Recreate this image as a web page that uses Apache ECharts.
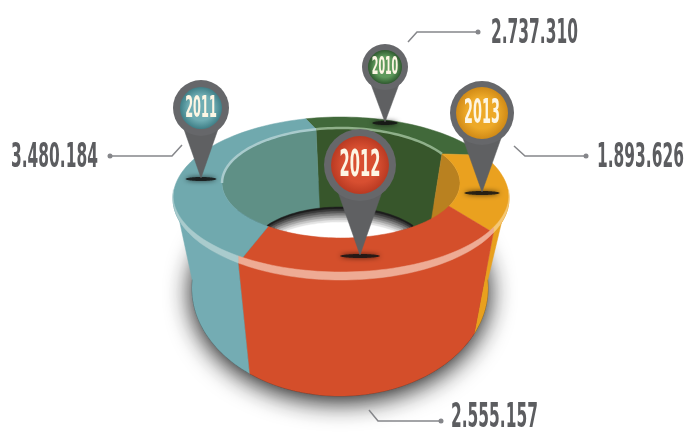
<!DOCTYPE html>
<html>
<head>
<meta charset="utf-8">
<title>Ring</title>
<style>
  html, body { margin: 0; padding: 0; background: #fff; }
  #chart { width: 687px; height: 432px; }
</style>
</head>
<body>
<div id="chart"></div>
<script src="https://cdn.jsdelivr.net/npm/echarts@6/dist/echarts.min.js"></script>
<script>
// slices go clockwise from the 2011/2010 joint at the back of the ring
var years = ['2010', '2013', '2012', '2011']
var values = [2737310, 1893626, 2555157, 3480184]

var topColors = ['#41693a', '#eaa11f', '#d44f2b', '#70a9ae']
var sideColors = ['#41693a', '#e8a01e', '#d44e2a', '#74acb3']
var wallColors = ['#37562b', '#b98120', '#d44f2b', '#5f9086']
var rimColors = ['#8fb08a', '#f4c878', '#eeab94', '#a9cbcd']
var headLight = ['#5f9a5c', '#eda928', '#d84f31', '#6fadb3']
var headDark = ['#2f5a2f', '#d08a17', '#b93a22', '#3f7f87']

// ring geometry, in page pixels
var rimOuter = { cx: 341, cy: 198.5, rx: 168, ry: 81.5 }
var rimInner = { cx: 341, cy: 195, rx: 168, ry: 77 }
var hole = { cx: 341, cy: 183, rx: 119, ry: 55 }
var floor = { cx: 340, cy: 250, rx: 89, ry: 43 }
var base = { cx: 340, cy: 288, rx: 148, ry: 108 }
var wallApex = [344, 765]
var wallCut = 240

// label and pin placement, one entry per slice
var pinLayout = [
  { tip: [385, 122], head: [385, 67], r: 23, inner: 17, size: 24, sx: 0.44 },
  { tip: [482, 192], head: [482, 113], r: 32, inner: 26, size: 34, sx: 0.42 },
  { tip: [360, 255], head: [360, 165], r: 36, inner: 29, size: 37, sx: 0.44 },
  { tip: [201, 178], head: [201, 108], r: 28, inner: 21, size: 30, sx: 0.42 }
]
var labelLayout = [
  { text: [491, 34], leader: [[478, 32], [417, 32], [408, 42]] },
  { text: [597, 158], leader: [[586, 156], [525, 156], [514, 146]] },
  { text: [451, 418], leader: [[441, 421], [378, 421], [369, 410]] },
  { text: [11, 158], leader: [[110, 156], [172, 156], [182, 145]] }
]

var FONT = '"DejaVu Sans Condensed", "DejaVu Sans", sans-serif'
var total = values.reduce(function (a, b) { return a + b }, 0)

// perspective of the drawing: the front of the ring is stretched, the back squeezed
function screenAngle (v) {
  var t = echarts.number.linearMap(v, [0, total], [0, 360])
  var rad = t * Math.PI / 180
  return -115.7 + t + 13.59 * Math.cos(rad) - 8.09 * Math.sin(rad)
}

var sliceRows = []
var running = 0
values.forEach(function (v, i) {
  sliceRows.push([i, screenAngle(running), screenAngle(running + v)])
  running += v
})

function pt (e, deg) {
  var a = deg * Math.PI / 180
  return [e.cx + e.rx * Math.cos(a), e.cy + e.ry * Math.sin(a)]
}

function arc (e, a, b) {
  var out = []
  var n = Math.max(2, Math.ceil(Math.abs(b - a) / 2))
  for (var i = 0; i <= n; i++) out.push(pt(e, a + (b - a) * i / n))
  return out
}

function band (e1, e2, a, b) {
  return arc(e1, a, b).concat(arc(e2, b, a))
}

function poly (points, fill, extra) {
  return { type: 'polygon', shape: { points: points }, style: Object.assign({ fill: fill, stroke: fill, lineWidth: 0.5 }, extra || {}) }
}

function layer (name, z, draw) {
  return {
    type: 'custom',
    name: name,
    coordinateSystem: 'none',
    silent: true,
    z: z,
    animation: false,
    data: sliceRows,
    renderItem: function (params, api) {
      var i = api.value(0)
      return draw(i, api.value(1), api.value(2)) || { type: 'group', children: [] }
    }
  }
}

// slide an arc end down its wall line until it reaches the cut height
function wallFoot (p) {
  if (p[1] >= wallCut) return p
  var k = (wallCut - p[1]) / (wallApex[1] - p[1])
  return [p[0] + (wallApex[0] - p[0]) * k, wallCut]
}

function holePoints (drop) {
  // what shows through: below the floor's back edge, above the hole's front edge
  var upper = []
  var lower = []
  for (var x = floor.cx - floor.rx; x <= floor.cx + floor.rx; x += 2) {
    var k = (x - floor.cx) / floor.rx
    var y1 = floor.cy + drop - floor.ry * Math.sqrt(1 - k * k)
    var h = (x - hole.cx) / hole.rx
    var y2 = hole.cy + hole.ry * Math.sqrt(1 - h * h)
    if (y1 < y2) {
      upper.push([x, y1])
      lower.unshift([x, y2])
    }
  }
  return upper.concat(lower)
}

function pinShape (p) {
  var dx = p.tip[0] - p.head[0]
  var dy = p.tip[1] - p.head[1]
  var d = Math.sqrt(dx * dx + dy * dy)
  var nx = -dy / d
  var ny = dx / d
  var w = p.r * 0.62
  var by = p.r * 0.72
  return [
    [p.head[0] + nx * w + dx / d * by, p.head[1] + ny * w + dy / d * by],
    [p.head[0] - nx * w + dx / d * by, p.head[1] - ny * w + dy / d * by],
    p.tip
  ]
}

var holeShades = ['#1c1c1c', '#3a3a3a', '#5c5c5c', '#808080', '#a4a4a4', '#c6c6c6', '#e4e4e4', '#ffffff']

var chart = echarts.init(document.getElementById('chart'), null, { renderer: 'canvas' })

chart.setOption({
  backgroundColor: '#ffffff',
  animation: false,
  series: [
    layer('shadow', 1, function (i) {
      if (i !== 0) return null
      return poly(arc(base, 0, 360), '#333', {
        shadowColor: 'rgba(0,0,0,0.95)', shadowBlur: 26, shadowOffsetY: 5
      })
    }),
    layer('wall', 2, function (i, a, b) {
      if (i === 2) return null
      var pts = arc(hole, a, b)
      return poly(pts.concat([wallFoot(pts[pts.length - 1]), wallFoot(pts[0])]), wallColors[i])
    }),
    layer('hole', 3, function (i) {
      if (i !== 0) return null
      return {
        type: 'group',
        children: holeShades.map(function (c, n) {
          return poly(holePoints(n * 2.2), c)
        })
      }
    }),
    layer('side', 4, function (i, a, b) {
      var from = Math.max(a, -4)
      var to = Math.min(b, 184)
      if (to <= from) return null
      return poly(band(rimOuter, base, from, to), sideColors[i])
    }),
    layer('top', 5, function (i, a, b) {
      return poly(band(rimOuter, hole, a, b), topColors[i])
    }),
    layer('rim', 6, function (i, a, b) {
      var from = Math.max(a, -4)
      var to = Math.min(b, 184)
      if (to <= from) return null
      return poly(band(rimOuter, rimInner, from, to), rimColors[i])
    }),
    layer('backline', 6, function (i, a, b) {
      var pts = []
      if (i === 0) pts = arc(hole, a, b)
      else if (i === 3) pts = arc(hole, 180, b)
      else return null
      return {
        type: 'polyline',
        shape: { points: pts },
        style: { fill: null, stroke: rimColors[i], lineWidth: 2.5 }
      }
    }),
    layer('pins', 10, function (i) {
      var p = pinLayout[i]
      return {
        type: 'group',
        children: [
          {
            type: 'polygon',
            shape: { points: arc({ cx: p.tip[0], cy: p.tip[1] + 1, rx: p.r * 0.55, ry: 2 }, 0, 360) },
            style: { fill: 'rgba(20,20,20,0.85)', shadowColor: 'rgba(0,0,0,0.8)', shadowBlur: 5 }
          },
          poly(pinShape(p), '#5f6062'),
          { type: 'circle', shape: { cx: p.head[0], cy: p.head[1], r: p.r }, style: { fill: '#66676a' } },
          {
            type: 'circle',
            shape: { cx: p.head[0], cy: p.head[1], r: p.inner },
            style: {
              fill: {
                type: 'radial',
                x: 0.5,
                y: 0.5,
                r: 0.5,
                colorStops: [
                  { offset: 0, color: headLight[i] },
                  { offset: 0.6, color: headLight[i] },
                  { offset: 1, color: headDark[i] }
                ]
              }
            }
          },
          {
            type: 'text',
            x: p.head[0],
            y: p.head[1] + 1,
            scaleX: p.sx,
            style: {
              text: years[i],
              fill: '#fdf6e4',
              font: 'bold ' + p.size + 'px ' + FONT,
              textAlign: 'center',
              textVerticalAlign: 'middle'
            }
          }
        ]
      }
    }),
    layer('labels', 9, function (i) {
      var l = labelLayout[i]
      var dot = l.leader[0]
      var label = String(values[i]).replace(/\B(?=(\d{3})+$)/g, '.')
      return {
        type: 'group',
        children: [
          { type: 'polyline', shape: { points: l.leader }, style: { fill: null, stroke: '#85868a', lineWidth: 1.5 } },
          { type: 'circle', shape: { cx: dot[0], cy: dot[1], r: 2.5 }, style: { fill: '#85868a' } },
          {
            type: 'text',
            x: l.text[0],
            y: l.text[1],
            scaleX: 0.52,
            style: {
              text: label,
              fill: '#5c5d60',
              font: 'bold 33px ' + FONT,
              textAlign: 'left',
              textVerticalAlign: 'middle'
            }
          }
        ]
      }
    })
  ]
})
</script>
</body>
</html>
